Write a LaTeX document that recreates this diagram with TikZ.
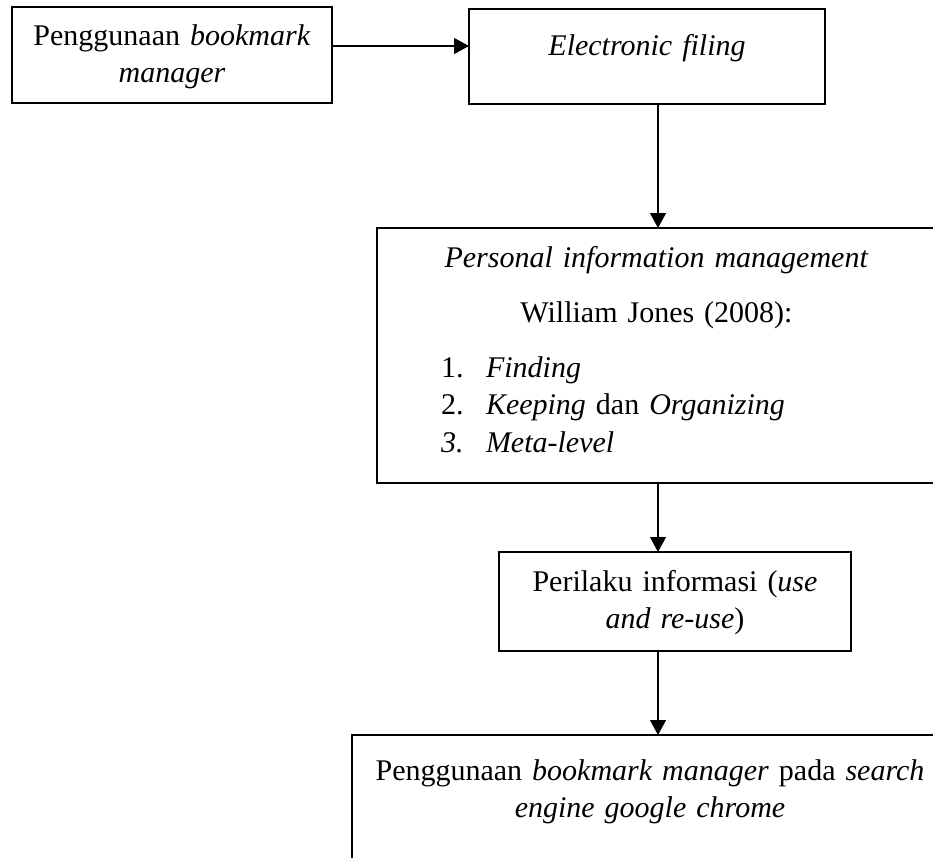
\documentclass[tikz,border=0pt]{standalone}
\usepackage{fontspec}
\setmainfont{Liberation Serif}
\usetikzlibrary{arrows.meta}

\tikzset{
  box/.style={draw, line width=1.9pt, anchor=north west, inner xsep=10pt, inner ysep=0pt, outer sep=0pt, align=center, font=\fontsize{30}{37.5}\selectfont},
  arr/.style={line width=1.2pt, -{Triangle[length=15pt,width=16pt]}}
}

\begin{document}
\begin{tikzpicture}[x=1pt,y=1pt,yscale=-1,xscale=1]
\useasboundingbox (0,0) rectangle (933,857);
\clip (0,0) rectangle (933,857);

%Shape: Rectangle [id:usage]
\node[box, text width=300pt, text height=38pt, text depth=58pt] (usage) at (12,7) {Penggunaan \textit{bookmark}\\ \textit{manager}};
%Shape: Rectangle [id:filing]
\node[box, text width=336pt, text height=46pt, text depth=49pt] (filing) at (469,9) {\textit{Electronic filing}};
%Shape: Rectangle [id:pim]
\node[box, align=left, text width=539pt, text height=39pt, text depth=216pt] (pim) at (377,228) {%
  \makebox[\linewidth][c]{\textit{Personal information management}}\\[17.5pt]
  \makebox[\linewidth][c]{William Jones (2008):}\\[17.5pt]
  \hspace*{54pt}\makebox[45pt][l]{1.}\textit{Finding}\\
  \hspace*{54pt}\makebox[45pt][l]{2.}\textit{Keeping} dan \textit{Organizing}\\
  \hspace*{54pt}\makebox[45pt][l]{\textit{3.}}\textit{Meta-level}};
%Shape: Rectangle [id:behaviour]
\node[box, text width=332pt, text height=39pt, text depth=60pt] (behaviour) at (499,552) {Perilaku informasi (\textit{use}\\ \textit{and re-use})};
%Shape: Rectangle [id:chrome]
\node[box, text width=576pt, text height=45pt, text depth=120pt] (chrome) at (352,735) {Penggunaan \textit{bookmark manager} pada \textit{search}\\ \textit{engine google chrome}};

%Straight Lines
\coordinate (arrowrow) at (0,46);
\coordinate (spine) at (658,0);
\draw[arr] (usage.east |- arrowrow) -- (filing.west |- arrowrow);
\draw[arr] (filing.south -| spine) -- (pim.north -| spine);
\draw[arr] (pim.south -| spine) -- (behaviour.north -| spine);
\draw[arr] (behaviour.south -| spine) -- (chrome.north -| spine);

\end{tikzpicture}
\end{document}
